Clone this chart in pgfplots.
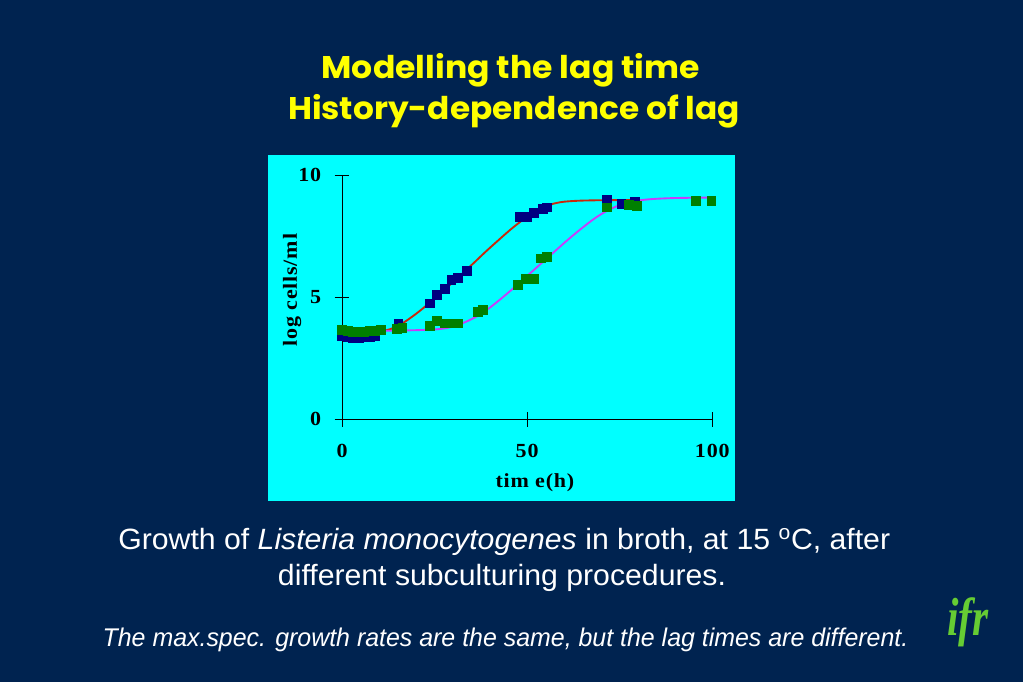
\documentclass[border=0pt]{standalone}
\usepackage{pgfplots}
\pgfplotsset{compat=1.18}
\usepackage{graphicx}
\usepackage{fontspec}
\setmainfont{Liberation Serif}
\newfontfamily\arial{Liberation Sans}
\newfontfamily\titlefont{Poppins}
\newfontfamily\chartfont{Liberation Serif}[FakeStretch=1.1, LetterSpace=4]

\definecolor{slidebg}{RGB}{0,35,80}
\definecolor{panel}{RGB}{0,255,255}
\definecolor{titleyellow}{RGB}{255,255,0}
\definecolor{ptblue}{RGB}{0,0,128}
\definecolor{ptgreen}{RGB}{0,128,0}
\definecolor{fitred}{RGB}{200,40,10}
\definecolor{fitmag}{RGB}{200,60,250}
\definecolor{logogreen}{RGB}{102,204,51}

\begin{document}
\begin{tikzpicture}
% slide, in pixel units (y up)
\begin{scope}[x=0.75pt,y=0.75pt]
  \fill[slidebg] (0,0) rectangle (1023,682);
  \fill[panel] (268,181) rectangle (735,527);
  \node[anchor=base, inner sep=0pt, text=titleyellow] at (510.8,603.7)
    {\resizebox{283.7pt}{\height}{\titlefont\bfseries\fontsize{23.5}{28}\selectfont Modelling the lag time}};
  \node[anchor=base, inner sep=0pt, text=titleyellow] at (514.1,562)
    {\resizebox{339pt}{\height}{\titlefont\bfseries\fontsize{23.5}{28}\selectfont History-dependence of lag}};
  \node[anchor=base, inner sep=0pt, text=white] at (504.2,132.7)
    {\resizebox{578.8pt}{\height}{\arial\fontsize{22}{26}\selectfont Growth of \textit{Listeria monocytogenes} in broth, at 15 \textsuperscript{o}C, after}};
  \node[anchor=base, inner sep=0pt, text=white] at (502,97)
    {\resizebox{336pt}{\height}{\arial\fontsize{22}{26}\selectfont different subculturing procedures.}};
  \node[anchor=base, inner sep=0pt, text=white] at (505.5,35.3)
    {\resizebox{604.2pt}{\height}{\arial\itshape\fontsize{19.2}{23}\selectfont The max.spec. growth rates are the same, but the lag times are different.}};
  \node[anchor=center, inner sep=0pt, text=logogreen] at (968,60)
    {\scalebox{1}[1.3]{\resizebox{31pt}{!}{\bfseries\itshape ifr}}};
\end{scope}

\begin{axis}[
    at={(256.5pt,197pt)}, anchor=south west,
    scale only axis, width=277.7pt, height=183.2pt,
    xmin=0, xmax=100, ymin=0, ymax=10,
    axis lines=left, axis line style={-, black, line width=0.6pt},
    xtick={0,50,100}, ytick={0,5,10},
    tick align=center, major tick length=11pt,
    tick style={black, line width=0.6pt},
    /pgf/number format/assume math mode=true,
    ticklabel style={font=\chartfont\bfseries\fontsize{15}{18}\selectfont},
    xticklabel style={inner sep=0pt, anchor=north},
    xticklabel shift=13pt,
    yticklabel style={inner sep=0pt, anchor=east},
    yticklabel shift=10pt,
    xlabel={tim e(h)}, ylabel={log cells/ml},
    label style={font=\chartfont\bfseries\fontsize{15}{18}\selectfont},
    xlabel style={at={(axis description cs:0.521,-0.261)}, anchor=center},
    ylabel style={at={(axis description cs:-0.135,0.529)}, anchor=center},
    clip=false,
]
% fitted curves
\addplot[fitred, line width=1.4pt, smooth] coordinates {
  (0,3.6) (8,3.6) (12,3.65) (14,3.75) (16,3.9) (18,4.1) (20,4.32) (22,4.56)
  (24,4.82) (26,5.08) (28,5.35) (30,5.62) (32,5.9) (34,6.18) (36,6.46)
  (38,6.75) (40,7.03) (42,7.3) (44,7.57) (46,7.83) (48,8.07) (50,8.3)
  (52,8.5) (54,8.66) (56,8.78) (58,8.86) (60,8.91) (64,8.95) (70,8.97) (79,8.98)
};
\addplot[fitmag, line width=1.4pt, smooth] coordinates {
  (0,3.62) (10,3.62) (20,3.65) (25,3.68) (28,3.73) (30,3.8) (32,3.9)
  (34,4.03) (36,4.18) (38,4.36) (40,4.58) (42,4.82) (44,5.07) (46,5.33)
  (48,5.6) (50,5.87) (52,6.14) (54,6.41) (56,6.68) (58,6.95) (60,7.22)
  (62,7.48) (64,7.73) (66,7.97) (68,8.2) (70,8.4) (72,8.57) (74,8.71)
  (76,8.82) (78,8.9) (80,8.96) (84,9.02) (90,9.06) (100,9.08)
};
% observations
\addplot[only marks, mark=square*, mark size=3.3pt, mark options={draw=ptblue, fill=ptblue}] coordinates {
  (0,3.4) (1.5,3.38) (3,3.33) (4.5,3.35) (6,3.36) (7.5,3.38) (9,3.4)
  (15.2,3.93) (23.7,4.75) (25.5,5.09) (27.7,5.36) (29.5,5.7) (31.3,5.8) (33.6,6.08)
  (48,8.29) (49.8,8.29) (51.7,8.46) (54.3,8.61) (55.4,8.68)
  (71.6,8.98) (75.4,8.84) (79,8.9)
};
\addplot[only marks, mark=square*, mark size=3.3pt, mark options={draw=ptgreen, fill=ptgreen}] coordinates {
  (0,3.66) (1.5,3.64) (3,3.58) (4.5,3.58) (6,3.6) (7.5,3.62) (9,3.63) (10.5,3.66)
  (14.8,3.72) (16.3,3.75) (23.7,3.83) (25.7,4.02) (27.7,3.93) (29.5,3.93) (31.3,3.93)
  (36.7,4.4) (38,4.47) (47.5,5.5) (49.5,5.77) (51.7,5.77) (53.6,6.59) (55.2,6.66)
  (71.6,8.68) (77.5,8.77) (79.5,8.75) (95.5,8.95) (99.7,8.95)
};
\end{axis}
\end{tikzpicture}
\end{document}
